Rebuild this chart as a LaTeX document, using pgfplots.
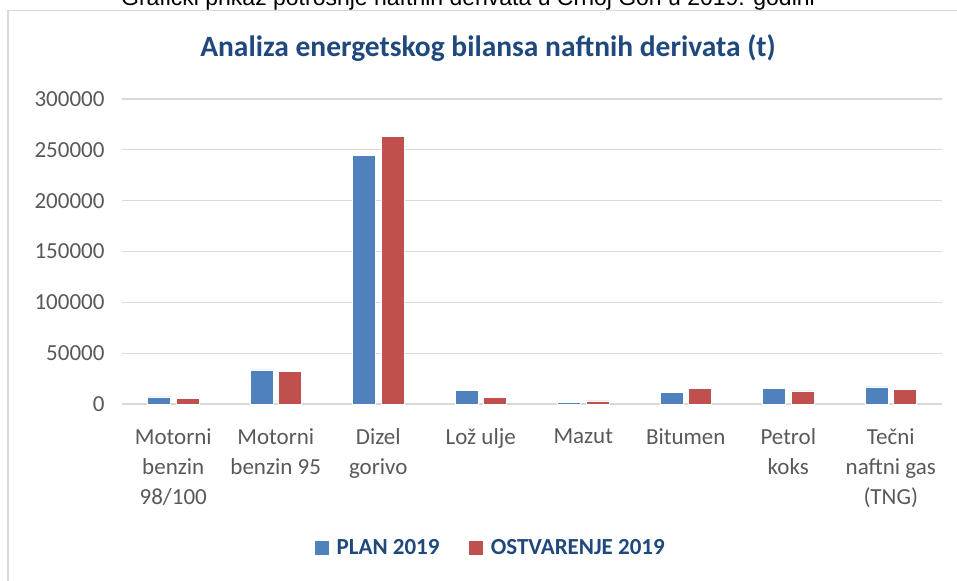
\documentclass[border=0pt]{standalone}
\usepackage{pgfplots}
\pgfplotsset{compat=1.18}
\usepackage{fontspec}
\setmainfont{Carlito}
\newfontfamily\capfont{Liberation Sans}
\definecolor{planblue}{HTML}{4F81BD}
\definecolor{ostred}{HTML}{C0504D}
\definecolor{gridgray}{HTML}{D9D9D9}
\definecolor{ticktext}{HTML}{595959}
\definecolor{titleblue}{HTML}{1F497D}
\begin{document}
\begin{tikzpicture}
\useasboundingbox (0bp,0bp) rectangle (957bp,-581bp);
\fill[white] (0bp,0bp) rectangle (957bp,-581bp);
% cut-off caption above the chart
\node[anchor=base, font=\capfont\fontsize{23bp}{28bp}\selectfont, text=black, inner sep=0pt] at (468bp,-5bp) {Grafički prikaz potrošnje naftnih derivata u Crnoj Gori u 2019. godini};
% chart frame
\draw[gridgray, line width=1.6bp] (8bp,-590bp) -- (8bp,-10.5bp) -- (970bp,-10.5bp);
% title
\node[font=\bfseries\fontsize{29.5bp}{34bp}\selectfont, text=titleblue, inner sep=0pt] at (488bp,-48bp) {Analiza energetskog bilansa naftnih derivata (t)};
\begin{axis}[
  at={(122bp,-404bp)}, anchor=south west,
  scale only axis,
  width=820bp, height=305bp,
  xmin=-0.5, xmax=7.5,
  ymin=0, ymax=300000,
  ybar, bar width=23bp,
  axis line style={draw=none},
  major tick length=0pt,
  ymajorgrids, grid style={gridgray, line width=1.1bp},
  ytick={0,50000,100000,150000,200000,250000,300000},
  scaled y ticks=false,
  yticklabel style={/pgf/number format/fixed, /pgf/number format/1000 sep={}, font=\fontsize{23bp}{28bp}\selectfont, text=ticktext, xshift=-14bp},
  /pgf/number format/assume math mode=true,
  xtick={0,1,2,3,4,5,6,7},
  xticklabels={{Motorni\\benzin\\98/100},{Motorni\\benzin 95},{Dizel\\gorivo},{Lož ulje},{Mazut},{Bitumen},{Petrol\\koks},{Tečni\\naftni gas\\(TNG)}},
  xticklabel style={align=center, font=\fontsize{23bp}{30bp}\selectfont, text=ticktext, yshift=-21bp},
  legend columns=2,
  legend style={at={(0.45,-0.472)}, anchor=center, draw=none, fill=none, font=\bfseries\fontsize{23bp}{28bp}\selectfont, text=titleblue,
    /tikz/every odd column/.append style={column sep=6bp},
    /tikz/every even column/.append style={column sep=28bp}},
  legend cell align=left,
]
\addplot[fill=planblue, draw=white, line width=0.5bp, bar shift=-14.25bp, forget plot]
  coordinates {(0,7000) (1,33500) (2,244400) (3,13100) (4,1600) (5,11800) (6,15400) (7,16800)};
\addplot[fill=ostred, draw=white, line width=0.5bp, bar shift=14.25bp, forget plot]
  coordinates {(0,5300) (1,31800) (2,263500) (3,6600) (4,3000) (5,15400) (6,12800) (7,14100)};
\addlegendimage{legend image code/.code={\fill[planblue] (0bp,-6.5bp) rectangle (13bp,6.5bp);}}
\addlegendentry{PLAN 2019}
\addlegendimage{legend image code/.code={\fill[ostred] (0bp,-6.5bp) rectangle (13bp,6.5bp);}}
\addlegendentry{OSTVARENJE 2019}
\end{axis}
\end{tikzpicture}
\end{document}
